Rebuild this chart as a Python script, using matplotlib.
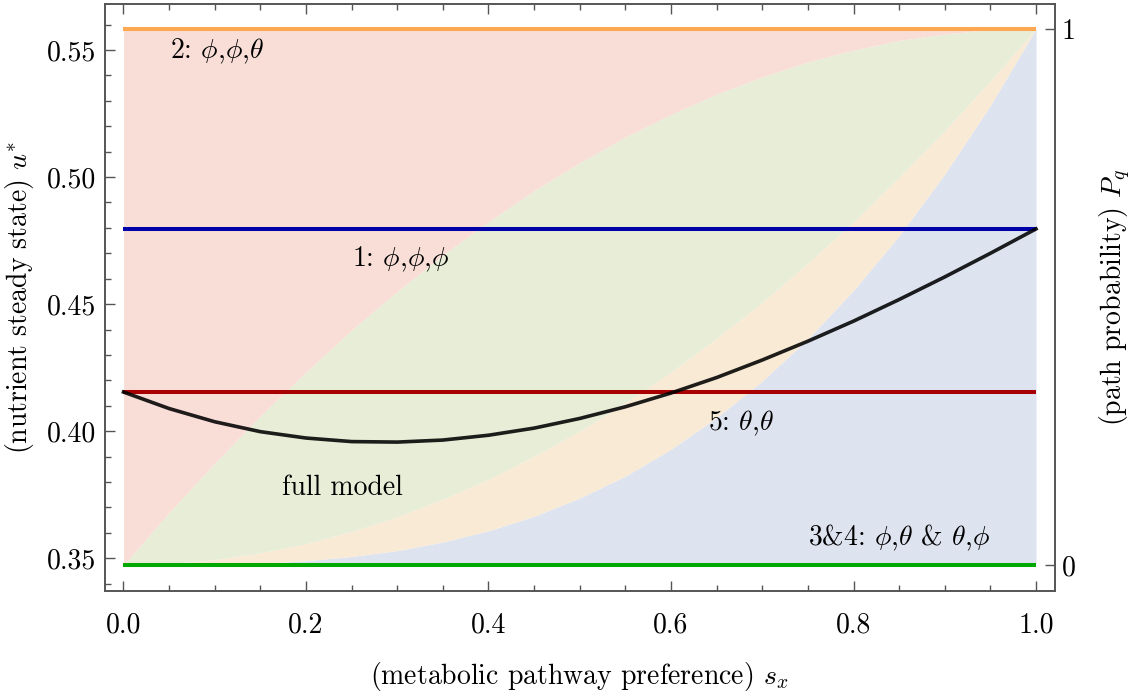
import matplotlib
matplotlib.use("Agg")
import matplotlib.pyplot as plt
from matplotlib.ticker import MultipleLocator, FixedLocator

plt.rcParams['font.family'] = 'serif'
plt.rcParams['font.serif'] = ['cmr10', 'DejaVu Serif']
plt.rcParams['mathtext.fontset'] = 'cm'
plt.rcParams['axes.formatter.use_mathtext'] = True

# ---- data ----
s = [0.00, 0.05, 0.10, 0.15, 0.20, 0.25, 0.30, 0.35, 0.40, 0.45, 0.50,
     0.55, 0.60, 0.65, 0.70, 0.75, 0.80, 0.85, 0.90, 0.95, 1.00]

# cumulative path probabilities (upper boundaries of stacked bands)
p_blue_top = [0.000, 0.000, 0.001, 0.003, 0.008, 0.016, 0.027, 0.043, 0.064, 0.091, 0.125,
              0.166, 0.216, 0.275, 0.343, 0.422, 0.512, 0.614, 0.729, 0.857, 1.000]
p_orange_top = [0.000, 0.003, 0.010, 0.023, 0.040, 0.063, 0.090, 0.123, 0.160, 0.203, 0.250,
                0.303, 0.360, 0.423, 0.490, 0.563, 0.640, 0.723, 0.810, 0.903, 1.000]
p_green_top = [0.000, 0.098, 0.190, 0.278, 0.360, 0.438, 0.510, 0.578, 0.640, 0.698, 0.750,
               0.798, 0.840, 0.878, 0.910, 0.938, 0.960, 0.978, 0.990, 0.998, 1.000]

full_model = [0.4154, 0.4089, 0.4037, 0.3998, 0.3973, 0.3959, 0.3957, 0.3965, 0.3984, 0.4012, 0.4050,
              0.4096, 0.4150, 0.4211, 0.4280, 0.4354, 0.4433, 0.4518, 0.4607, 0.4700, 0.4796]

path_names = ["1", "2", "3&4", "5"]
path_u = [0.4796, 0.5584, 0.3473, 0.4154]

line_colors = ["#0000a8", "#ffa851", "#00a800", "#a80000"]
band_colors = ["#dee3f0", "#f9ead5", "#e7edd7", "#f9ded7"]

# ---- figure ----
fig = plt.figure(figsize=(11.44, 6.94), dpi=100)
ax = fig.add_axes([104.5 / 1144, 1 - 591 / 694, (1055 - 104.5) / 1144, (591 - 3.5) / 694])
ax2 = ax.twinx()

u0, u1 = path_u[2], path_u[1]
ulo, uhi = 0.3371, 0.5683
ax2.set_ylim(ulo, uhi)
ax.set_ylim((ulo - u0) / (u1 - u0), (uhi - u0) / (u1 - u0))
ax.set_xlim(-0.0208, 1.0208)

# bands on primary (probability) axis
zeros = [0.0] * len(s)
ones = [1.0] * len(s)
ax.fill_between(s, zeros, p_blue_top, color=band_colors[0], lw=0)
ax.fill_between(s, p_blue_top, p_orange_top, color=band_colors[1], lw=0)
ax.fill_between(s, p_orange_top, p_green_top, color=band_colors[2], lw=0)
ax.fill_between(s, p_green_top, ones, color=band_colors[3], lw=0)

# path lines and full model on u axis
for uval, col in zip(path_u, line_colors):
    ax2.plot([s[0], s[-1]], [uval, uval], color=col, lw=2.9, solid_capstyle='butt', zorder=3)
ax2.plot(s, full_model, color='black', alpha=0.88, lw=2.6, zorder=4,
         solid_joinstyle='round')

# annotations
fs = 20
ax2.text(0.051, 0.5496, r"2: $\phi$,$\phi$,$\theta$", fontsize=fs, va='center', ha='left')
ax2.text(0.250, 0.4677, r"1: $\phi$,$\phi$,$\phi$", fontsize=fs, va='center', ha='left')
ax2.text(0.640, 0.4032, r"5: $\theta$,$\theta$", fontsize=fs, va='center', ha='left')
ax2.text(0.174, 0.3776, "full model", fontsize=fs, va='center', ha='left')
ax2.text(0.750, 0.3580, r"3&4: $\phi$,$\theta$ & $\theta$,$\phi$", fontsize=fs, va='center', ha='left')

# axes styling
spine_col = '#555555'
for a in (ax, ax2):
    for sp in a.spines.values():
        sp.set_color(spine_col)
        sp.set_linewidth(1.2)

ax.yaxis.tick_right()
ax.yaxis.set_label_position('right')
ax2.yaxis.tick_left()
ax2.yaxis.set_label_position('left')

ax.xaxis.set_major_locator(MultipleLocator(0.2))
ax.xaxis.set_minor_locator(MultipleLocator(0.05))
ax.xaxis.set_major_formatter(plt.FuncFormatter(lambda v, p: f"{v:.1f}"))
ax.tick_params(axis='x', which='both', direction='in', top=True, bottom=True,
               color=spine_col, labelsize=20, pad=15)
ax.tick_params(axis='x', which='major', length=7, width=1)
ax.tick_params(axis='x', which='minor', length=4, width=1)

ax.yaxis.set_major_locator(FixedLocator([0, 1]))
ax.yaxis.set_major_formatter(plt.FuncFormatter(lambda v, p: f"{v:.0f}"))
ax.tick_params(axis='y', which='major', direction='in', length=7, width=1, color=spine_col,
               labelsize=20, left=False, right=True, labelleft=False, labelright=True, pad=5)

ax2.yaxis.set_major_locator(MultipleLocator(0.05))
ax2.yaxis.set_minor_locator(MultipleLocator(0.01))
ax2.yaxis.set_major_formatter(plt.FuncFormatter(lambda v, p: f"{v:.2f}"))
ax2.tick_params(axis='y', which='both', direction='in', color=spine_col,
                labelsize=20, left=True, right=False, labelleft=True, labelright=False, pad=6)
ax2.tick_params(axis='y', which='major', length=7, width=1)
ax2.tick_params(axis='y', which='minor', length=4, width=1)

ax.set_xlabel(r"(metabolic pathway preference) $s_x$", fontsize=20, labelpad=16)
ax2.set_ylabel(r"(nutrient steady state) $u^{*}$", fontsize=20, labelpad=8)
ax.set_ylabel(r"(path probability) $P_q$", fontsize=20, labelpad=16)

fig.savefig("out.png", dpi=100)
